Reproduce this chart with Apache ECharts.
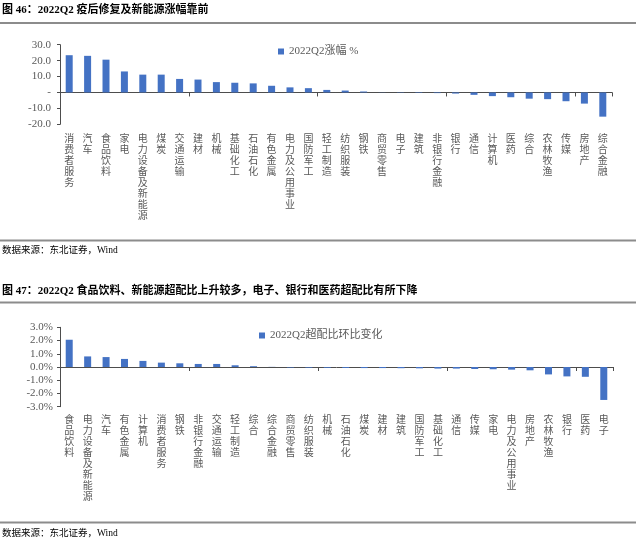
<!DOCTYPE html>
<html><head><meta charset="utf-8">
<script src="https://cdn.jsdelivr.net/npm/echarts@6/dist/echarts.min.js"></script>
<style>html,body{margin:0;padding:0;background:#fff}#c{width:640px;height:544px}</style>
</head><body><div id="c"></div>
<script>
var cats1 = ['消费者服务','汽车','食品饮料','家电','电力设备及新能源','煤炭','交通运输','建材','机械','基础化工','石油石化','有色金属','电力及公用事业','国防军工','轻工制造','纺织服装','钢铁','商贸零售','电子','建筑','非银行金融','银行','通信','计算机','医药','综合','农林牧渔','传媒','房地产','综合金融'];
var vals1 = [23.4,23.0,20.6,13.2,11.2,11.2,8.5,8.1,6.5,6.1,5.7,4.2,3.2,2.7,1.6,1.2,0.6,0.1,-0.2,-0.3,-0.4,-0.7,-1.5,-2.3,-3.0,-3.9,-4.2,-5.5,-7.0,-15.2];
var cats2 = ['食品饮料','电力设备及新能源','汽车','有色金属','计算机','消费者服务','钢铁','非银行金融','交通运输','轻工制造','综合','综合金融','商贸零售','纺织服装','机械','石油石化','煤炭','建材','建筑','国防军工','基础化工','通信','传媒','家电','电力及公用事业','房地产','农林牧渔','银行','医药','电子'];
var vals2 = [2.06,0.80,0.75,0.61,0.46,0.33,0.28,0.23,0.23,0.13,0.06,0.01,-0.04,-0.05,-0.06,-0.07,-0.08,-0.08,-0.09,-0.10,-0.12,-0.12,-0.15,-0.17,-0.20,-0.25,-0.56,-0.71,-0.74,-2.49];
var ticks1 = {min:-20, max:30, interval:10};
var ticks2 = {min:-3, max:3, interval:1};
var name1 = '2022Q2涨幅 %';
var name2 = '2022Q2超配比环比变化';
var title1 = '图 46：2022Q2 疫后修复及新能源涨幅靠前';
var title2 = '图 47：2022Q2 食品饮料、新能源超配比上升较多，电子、银行和医药超配比有所下降';
var source = '数据来源：东北证券，Wind';

var FONT = '"Liberation Serif", "Noto Sans CJK SC", serif';
var BLUE = '#4472C4';
var GRAY = '#595959';
var AX = '#4d4d4d';
var chart = echarts.init(document.getElementById('c'), null, {renderer:'canvas'});
function vert(v){ return v.split('').join('\n'); }
function xAxes(idx, cats, margin){
  return [
    {type:'category', gridIndex:idx, data:cats, position:'bottom',
     axisLine:{onZero:true, lineStyle:{color:AX, width:1}},
     axisTick:{show:true, length:4, lineStyle:{color:AX}},
     axisLabel:{show:false}},
    {type:'category', gridIndex:idx, data:cats, position:'bottom',
     axisLine:{show:false, onZero:false}, axisTick:{show:false},
     axisLabel:{interval:0, formatter:vert, color:GRAY, fontSize:10, lineHeight:11, fontFamily:FONT, margin:margin, verticalAlign:'top'}}
  ];
}
var option = {
  backgroundColor:'#fff',
  animation:false,
  textStyle:{fontFamily:FONT},
  grid:[
    {left:60, top:44.7, width:552, height:79.6},
    {left:60, top:327.3, width:553, height:79.4}
  ],
  legend:[
    {data:[name1], left:273, top:41, icon:'rect', itemWidth:6, itemHeight:6, itemGap:4,
     textStyle:{color:GRAY, fontSize:11, fontFamily:FONT}},
    {data:[name2], left:254, top:325, icon:'rect', itemWidth:6, itemHeight:6, itemGap:4,
     textStyle:{color:GRAY, fontSize:11, fontFamily:FONT}}
  ],
  xAxis: xAxes(0, cats1, 10).concat(xAxes(1, cats2, 8)),
  yAxis:[
    {type:'value', gridIndex:0, min:ticks1.min, max:ticks1.max, interval:ticks1.interval,
     axisLine:{show:true, lineStyle:{color:AX}}, axisTick:{show:true, length:3, lineStyle:{color:AX}},
     splitLine:{show:false},
     axisLabel:{color:GRAY, fontSize:11, fontFamily:FONT, margin:9,
       formatter:function(v){ return v===0 ? '-' : v.toFixed(1); }}},
    {type:'value', gridIndex:1, min:ticks2.min, max:ticks2.max, interval:ticks2.interval,
     axisLine:{show:true, lineStyle:{color:AX}}, axisTick:{show:true, length:3, lineStyle:{color:AX}},
     splitLine:{show:false},
     axisLabel:{color:GRAY, fontSize:11, fontFamily:FONT, margin:7,
       formatter:function(v){ return v.toFixed(1)+'%'; }}}
  ],
  series:[
    {name:name1, type:'bar', xAxisIndex:0, yAxisIndex:0, data:vals1, barWidth:7, itemStyle:{color:BLUE}},
    {name:name2, type:'bar', xAxisIndex:2, yAxisIndex:1, data:vals2, barWidth:7, itemStyle:{color:BLUE}}
  ],
  graphic:[
    {type:'text', left:2, top:5, style:{text:title1, font:'bold 11px '+FONT, fill:'#000'}},
    {type:'line', shape:{x1:0,y1:23,x2:636,y2:23}, style:{stroke:'#8c8c8c', lineWidth:2}},
    {type:'line', shape:{x1:0,y1:240.5,x2:636,y2:240.5}, style:{stroke:'#8c8c8c', lineWidth:2}},
    {type:'text', left:2, top:246, style:{text:source, font:'9.5px '+FONT, fill:'#000'}},
    {type:'text', left:2, top:286, style:{text:title2, font:'bold 11px '+FONT, fill:'#000'}},
    {type:'line', shape:{x1:0,y1:302.5,x2:636,y2:302.5}, style:{stroke:'#8c8c8c', lineWidth:2}},
    {type:'line', shape:{x1:0,y1:522.5,x2:636,y2:522.5}, style:{stroke:'#8c8c8c', lineWidth:2}},
    {type:'text', left:2, top:529, style:{text:source, font:'9.5px '+FONT, fill:'#000'}}
  ]
};
chart.setOption(option);
</script></body></html>
